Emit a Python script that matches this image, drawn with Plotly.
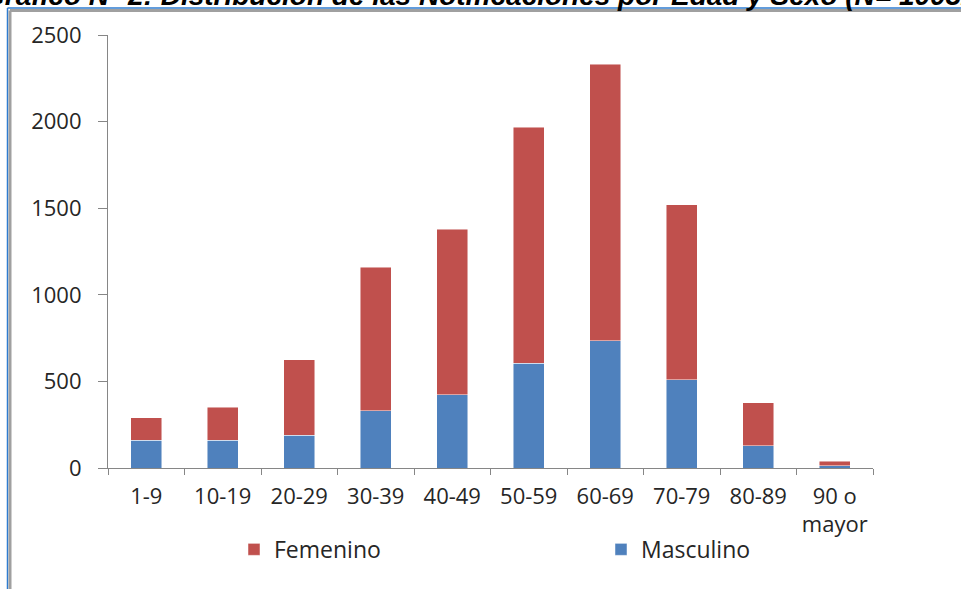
import plotly.graph_objects as go

# Grupos de edad y notificaciones por sexo
grupos = ["1-9", "10-19", "20-29", "30-39", "40-49", "50-59", "60-69", "70-79", "80-89", "90 o<br>mayor"]
masculino = [160, 160, 190, 330, 423, 605, 735, 510, 128, 14]
femenino = [130, 190, 435, 828, 955, 1361, 1595, 1011, 248, 25]
y_ticks = [0, 500, 1000, 1500, 2000, 2500]

W, H = 961, 589
L, R, T, B = 108, 88, 35, 120.5
PW, PH = W - L - R, H - T - B


def px_x(px):
    return (px - L) / PW


def px_y(py):
    return (H - B - py) / PH


FONT = "'Open Sans', Lato, sans-serif"
TXT = "#262626"
ROJO = "#C0504D"
AZUL = "#4F81BD"
BORDE = dict(color="rgba(255,255,255,0.6)", width=0.8)

fig = go.Figure()
fig.add_trace(go.Bar(
    x=grupos, y=masculino, name="Masculino", legend="legend2",
    marker=dict(color=AZUL, line=BORDE),
))
fig.add_trace(go.Bar(
    x=grupos, y=femenino, name="Femenino", legend="legend",
    marker=dict(color=ROJO, line=BORDE),
))

# Marco del gráfico (línea azul y gris)
shapes = [
    dict(type="line", xref="paper", yref="paper",
         x0=px_x(7.5), x1=px_x(7.5), y0=px_y(8), y1=px_y(600),
         line=dict(color="#2E7BCF", width=1.5)),
    dict(type="line", xref="paper", yref="paper",
         x0=px_x(7.5), x1=px_x(970), y0=px_y(8), y1=px_y(8),
         line=dict(color="#2E7BCF", width=1.5)),
    dict(type="line", xref="paper", yref="paper",
         x0=px_x(10), x1=px_x(10), y0=px_y(10.5), y1=px_y(600),
         line=dict(color="#A0A0A0", width=3)),
    dict(type="line", xref="paper", yref="paper",
         x0=px_x(10), x1=px_x(970), y0=px_y(10.5), y1=px_y(10.5),
         line=dict(color="#A0A0A0", width=3)),
]

annotations = [
    dict(text="<b><i>Gráfico N° 2: Distribución de las Notificaciones por Edad y Sexo (N= 10032)</i></b>",
         xref="paper", yref="paper", x=px_x(-19), y=px_y(13),
         xanchor="left", yanchor="bottom", showarrow=False,
         font=dict(family="'Liberation Sans', Arial, sans-serif", size=28, color="#000000")),
]

leg_common = dict(orientation="h", yanchor="middle", xanchor="left",
                  itemwidth=30, bgcolor="rgba(0,0,0,0)",
                  font=dict(family=FONT, size=23, color=TXT))

fig.update_layout(
    width=W, height=H,
    margin=dict(l=L, r=R, t=T, b=B, pad=0, autoexpand=False),
    paper_bgcolor="white", plot_bgcolor="white",
    barmode="stack", bargap=0.6,
    font=dict(family=FONT, size=22, color=TXT),
    showlegend=True,
    legend=dict(x=px_x(234), y=px_y(550), **leg_common),
    legend2=dict(x=px_x(601), y=px_y(550), **leg_common),
    shapes=shapes,
    annotations=annotations,
)

fig.update_xaxes(
    type="category", showline=True, linecolor="#868686", linewidth=1.2,
    ticks="outside", tickson="boundaries", ticklen=6, tickcolor="#868686",
    tickfont=dict(family=FONT, size=22, color=TXT), ticklabelstandoff=8,
    showgrid=False, fixedrange=True,
)
fig.update_yaxes(
    range=[0, 2500], tickvals=y_ticks, showline=True, linecolor="#868686", linewidth=1.2,
    ticks="outside", ticklen=9, tickcolor="#868686", showgrid=False, zeroline=False,
    tickfont=dict(family=FONT, size=22, color=TXT), ticklabelstandoff=12, fixedrange=True,
)

fig.write_html("out.html")
